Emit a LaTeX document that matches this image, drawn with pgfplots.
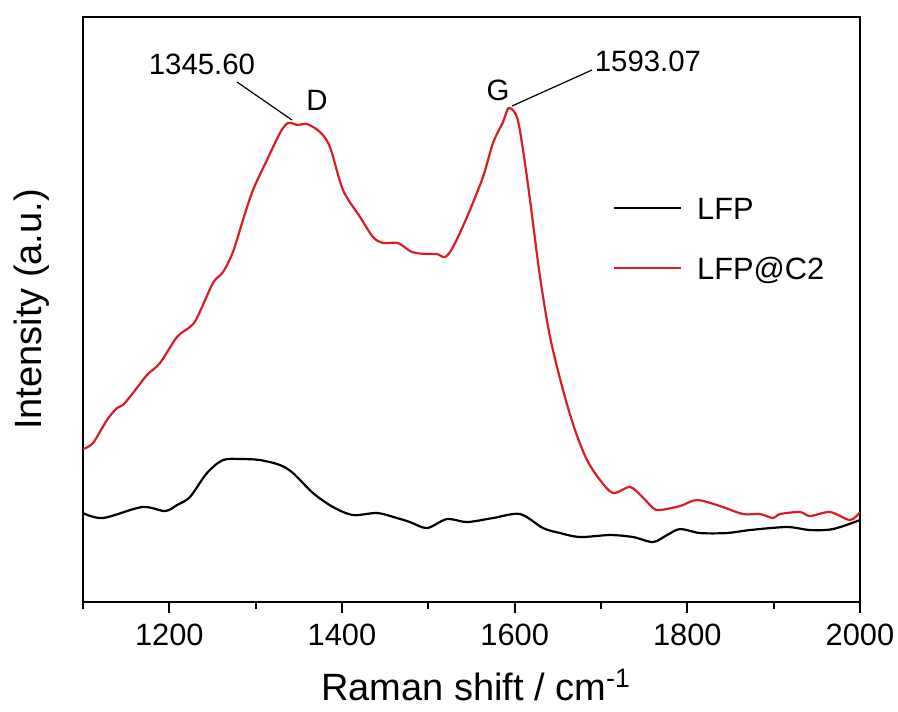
\documentclass[border=0pt]{standalone}
\usepackage{fontspec}
\setmainfont{Liberation Sans}
\usepackage{pgfplots}
\pgfplotsset{compat=1.18}
\definecolor{ramanred}{RGB}{218,28,38}

\begin{document}
\begin{tikzpicture}
\begin{axis}[
    scale only axis,
    width=388.5pt, height=292.5pt,
    xmin=1100, xmax=2000, ymin=0, ymax=585,
    xtick={1200,1400,...,2000},
    minor xtick={1100,1300,...,1900},
    ytick=\empty,
    xtick pos=lower,
    tick align=outside,
    major tick length=5.5pt, minor tick length=3.5pt,
    every tick/.style={black, line width=0.9pt},
    axis line style={line width=1pt},
    tick label style={font=\fontsize{15.4}{18}\selectfont},
    xticklabel style={yshift=-2pt},
    /pgf/number format/assume math mode=true,
    /pgf/number format/1000 sep={},
    xlabel={Raman shift / cm\textsuperscript{-1}},
    ylabel={Intensity (a.u.)},
    label style={font=\fontsize{19}{22}\selectfont},
    xlabel style={at={(rel axis cs:0.5058,-0.1675)}, anchor=base},
    ylabel style={at={(rel axis cs:-0.054,0.5)}, anchor=base},
    legend style={draw=none, fill=none, at={(rel axis cs:0.6821,0.6923)},
        anchor=north west, inner sep=0pt, outer sep=0pt, row sep=19pt,
        font=\fontsize{15.4}{18}\selectfont,
        nodes={inner sep=0pt, text height=11pt, text depth=0pt},
        /tikz/every odd column/.append style={column sep=7.5pt}},
    legend cell align=left,
    legend image code/.code={\draw[#1] (0pt,0pt) -- (33.5pt,0pt);},
]
% LFP
\addplot[black, line width=1.1pt, smooth] table {
1100   89
1123.2 84
1168.3 95
1195.0 91
1208.9 97
1223.9 105
1243.6 129
1262.2 142
1283.0 143
1305.0 142
1328.2 137
1343.3 129
1366.4 109
1389.6 95
1412.8 87
1440.6 89
1463.7 84
1478.8 80
1498.5 74
1521.6 83
1544.8 80
1574.9 84
1606.2 88
1632.8 74
1652.5 69
1675.7 65
1710.4 67
1737.1 65
1760.3 60
1776.5 67
1791.6 73
1814.7 69
1846.0 69
1872.6 72
1915.5 75
1942.1 72
1968.8 73
2000   82
};
\addlegendentry{LFP}
% LFP@C2
\addplot[ramanred, line width=1.1pt, smooth] table {
1100   153
1111.6 159
1127.8 182
1139.4 194
1146.3 197
1157.9 209
1174.1 227
1189.2 239
1208.9 265
1223.9 275
1232.0 284
1250.6 319
1262.2 330
1273.7 350
1285.3 382
1296.9 412
1313.1 442
1328.2 469
1337.5 479
1349.0 477
1359.5 478
1374.5 470
1386.1 455
1401.2 412
1420.9 385
1435.9 365
1447.5 359
1464.9 359
1481.1 350
1498.5 348
1510.0 348
1519.3 345
1528.6 355
1544.8 385
1563.3 425
1574.9 459
1586.5 480
1593.1 494
1602.7 485
1609.7 452
1617.8 402
1629.4 325
1641.0 265
1656.0 212
1669.9 172
1683.8 142
1698.9 122
1714.0 109
1733.7 115
1748.0 105
1760.3 94
1768.4 92
1791.6 96
1811.2 102
1837.9 96
1864.5 88
1884.2 88
1899.3 84
1907.4 88
1930.5 90
1942.1 86
1965.3 90
1988.4 82
2000   90
};
\addlegendentry{LFP@C2}
% peak annotations
\draw[black, line width=0.6pt] (axis cs:1278.4,520) -- (axis cs:1342.1,482);
\draw[black, line width=0.6pt] (axis cs:1596.9,496) -- (axis cs:1689.6,532);
\node[font=\fontsize{14.7}{17}\selectfont, anchor=base, inner sep=0pt] at (axis cs:1237.8,528) {1345.60};
\node[font=\fontsize{14.7}{17}\selectfont, anchor=base, inner sep=0pt] at (axis cs:1371.0,492) {D};
\node[font=\fontsize{14.7}{17}\selectfont, anchor=base, inner sep=0pt] at (axis cs:1580.7,502) {G};
\node[font=\fontsize{14.7}{17}\selectfont, anchor=base, inner sep=0pt] at (axis cs:1754.4,531) {1593.07};
\coordinate (bbl) at (rel axis cs:-0.1068,-0.1863);
\coordinate (btr) at (rel axis cs:1.0489,1.0291);
\end{axis}
\pgfresetboundingbox
\useasboundingbox (bbl) rectangle (btr);
\end{tikzpicture}
\end{document}
